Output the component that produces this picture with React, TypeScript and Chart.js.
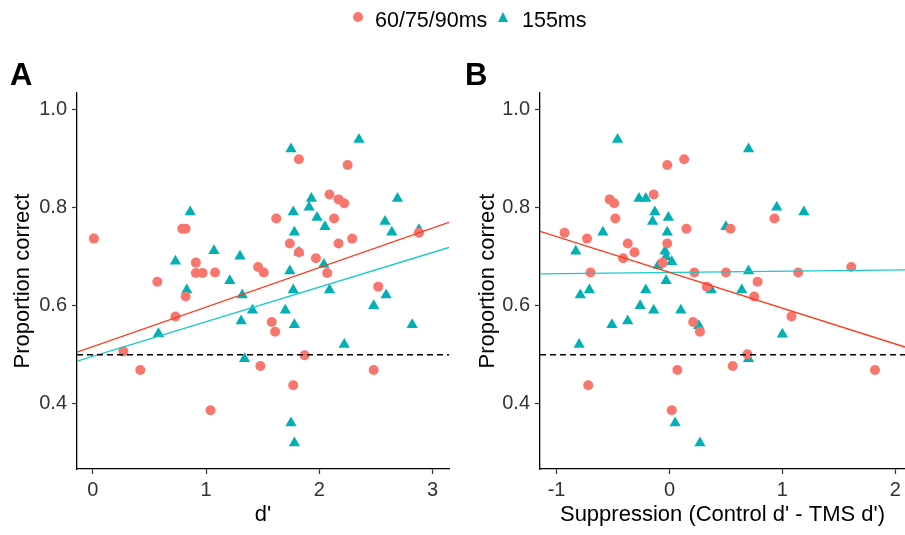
import React, { useEffect, useRef } from "react";
import { Chart, registerables } from "chart.js";

Chart.register(...registerables);

const FONT = "'Liberation Sans', Arial, Helvetica, sans-serif";

// ---- Legend / series names
const SERIES_NAMES = ["60/75/90ms", "155ms"];

// ---- Panel A: d' vs proportion correct
const A_SHORT_X = [0.01, 1.82, 2.25, 2.09, 2.17, 2.22, 0.79, 0.82, 1.62, 2.13, 2.29, 1.74, 2.17, 1.82, 1.97, 2.88, 0.91, 0.91, 0.97, 1.08, 1.46, 1.51, 2.07, 0.57, 2.52, 0.82, 0.73, 1.58, 1.61, 0.27, 1.87, 0.42, 1.48, 2.48, 1.77, 1.04];
const A_SHORT_Y = [0.737, 0.899, 0.887, 0.827, 0.817, 0.809, 0.757, 0.757, 0.778, 0.778, 0.737, 0.727, 0.727, 0.709, 0.697, 0.749, 0.688, 0.667, 0.667, 0.668, 0.679, 0.668, 0.667, 0.649, 0.639, 0.619, 0.578, 0.567, 0.547, 0.507, 0.499, 0.469, 0.477, 0.469, 0.438, 0.387];
const A_LONG_X = [1.75, 2.35, 1.93, 1.91, 0.86, 1.77, 2.69, 1.98, 2.05, 2.58, 2.64, 1.78, 2.88, 1.82, 1.07, 0.73, 1.30, 2.04, 1.74, 1.21, 0.83, 1.77, 2.09, 1.32, 2.59, 2.48, 1.41, 1.70, 1.31, 1.78, 2.82, 0.58, 2.22, 1.34, 1.75, 1.78];
const A_LONG_Y = [0.92, 0.939, 0.819, 0.801, 0.791, 0.791, 0.819, 0.78, 0.761, 0.772, 0.75, 0.75, 0.755, 0.709, 0.712, 0.691, 0.701, 0.684, 0.671, 0.651, 0.632, 0.632, 0.632, 0.622, 0.622, 0.6, 0.591, 0.591, 0.569, 0.561, 0.561, 0.543, 0.521, 0.492, 0.361, 0.32];
// linear fits [intercept, slope]
const A_SHORT_FIT = [0.5166, 0.0806];
const A_LONG_FIT = [0.4968, 0.0706];
const A_X_RANGE = [-0.139, 3.145];
const A_X_TICKS = [0, 1, 2, 3];

// ---- Panel B: suppression vs proportion correct
const B_SHORT_X = [-0.93, -0.73, -0.53, -0.49, -0.48, -0.14, -0.02, 0.13, 0.15, -0.37, -0.31, -0.41, -0.02, -0.06, 0.54, 0.93, 1.61, -0.7, 0.22, 0.5, 1.14, 0.78, 0.33, 0.75, 1.08, 0.21, 0.27, 0.69, 0.07, 0.56, 1.82, -0.72, 0.02];
const B_SHORT_Y = [0.749, 0.737, 0.817, 0.809, 0.778, 0.827, 0.887, 0.899, 0.757, 0.727, 0.709, 0.697, 0.727, 0.688, 0.757, 0.778, 0.679, 0.668, 0.668, 0.668, 0.668, 0.649, 0.639, 0.619, 0.578, 0.567, 0.547, 0.501, 0.469, 0.477, 0.469, 0.438, 0.387];
const B_LONG_X = [-0.46, 0.7, -0.27, -0.21, -0.13, -0.15, -0.01, -0.02, 0.95, 1.19, -0.59, 0.5, -0.83, -0.04, -0.03, 0.02, -0.1, 0.7, -0.03, -0.71, -0.21, 0.37, 0.64, -0.79, -0.26, -0.14, 0.1, -0.51, -0.37, 0.26, 1.0, -0.8, 0.7, 0.05, 0.27];
const B_LONG_Y = [0.939, 0.92, 0.819, 0.819, 0.791, 0.772, 0.78, 0.75, 0.801, 0.791, 0.75, 0.761, 0.711, 0.711, 0.7, 0.69, 0.682, 0.671, 0.651, 0.632, 0.632, 0.632, 0.632, 0.622, 0.6, 0.591, 0.591, 0.561, 0.569, 0.559, 0.542, 0.521, 0.492, 0.361, 0.32];
const B_SHORT_FIT = [0.668, -0.073];
const B_LONG_FIT = [0.668, 0.0025];
const B_X_RANGE = [-1.147, 2.086];
const B_X_TICKS = [-1, 0, 1, 2];

// ---- shared y
const Y_RANGE = [0.267, 1.034];
const Y_TICKS = [0.4, 0.6, 0.8, 1.0];
const CHANCE = 0.5;
const Y_TITLE = "Proportion correct";

const RED_PT = "#F8766D";
const TEAL_PT = "#00B0B5";
const RED_LINE = "#FF3A1A";
const TEAL_LINE = "#1CC9CD";
const TICK_COLOR = "#333333";

type PanelProps = {
  sx: number[]; sy: number[]; lx: number[]; ly: number[];
  sFit: number[]; lFit: number[];
  xRange: number[]; xTicks: number[]; xTitle: string;
  width: number; height: number; left: number;
  padLeft: number; padRight: number; yWidth: number;
};

function zip(xs: number[], ys: number[]) {
  return xs.map((x, i) => ({ x, y: ys[i] }));
}
function fitLine(fit: number[], r: number[]) {
  return r.map((x) => ({ x, y: fit[0] + fit[1] * x }));
}

function Panel(p: PanelProps) {
  const ref = useRef<HTMLCanvasElement | null>(null);
  useEffect(() => {
    if (!ref.current) return;
    const chart = new Chart(ref.current, {
      type: "scatter",
      data: {
        datasets: [
          {
            type: "line",
            label: "chance",
            data: [{ x: p.xRange[0], y: CHANCE }, { x: p.xRange[1], y: CHANCE }],
            borderColor: "#000000",
            borderWidth: 1.6,
            borderDash: [6, 4],
            pointRadius: 0,
            order: 0,
          } as any,
          {
            type: "line",
            label: "fit short",
            data: fitLine(p.sFit, p.xRange),
            borderColor: RED_LINE,
            borderWidth: 1.4,
            pointRadius: 0,
            order: 1,
          } as any,
          {
            type: "line",
            label: "fit long",
            data: fitLine(p.lFit, p.xRange),
            borderColor: TEAL_LINE,
            borderWidth: 1.4,
            pointRadius: 0,
            order: 2,
          } as any,
          {
            label: SERIES_NAMES[0],
            data: zip(p.sx, p.sy),
            pointStyle: "circle",
            pointRadius: 5,
            backgroundColor: RED_PT,
            borderColor: RED_PT,
            pointBorderWidth: 0,
            order: 3,
          } as any,
          {
            label: SERIES_NAMES[1],
            data: zip(p.lx, p.ly),
            pointStyle: "triangle",
            pointRadius: 6.5,
            backgroundColor: TEAL_PT,
            borderColor: TEAL_PT,
            pointBorderWidth: 0,
            order: 4,
          } as any,
        ],
      },
      options: {
        animation: false,
        responsive: false,
        maintainAspectRatio: false,
        layout: { autoPadding: false, padding: { left: p.padLeft, right: p.padRight, top: 93, bottom: 7 } },
        plugins: { legend: { display: false }, tooltip: { enabled: false } },
        scales: {
          x: {
            type: "linear",
            min: p.xRange[0],
            max: p.xRange[1],
            afterBuildTicks: (s: any) => { s.ticks = p.xTicks.map((v) => ({ value: v })); },
            afterFit: (s: any) => { s.height = 59; s.paddingLeft = 0; s.paddingRight = 0; },
            ticks: {
              callback: (v: any) => String(v),
              color: TICK_COLOR,
              font: { family: FONT, size: 20 },
              padding: 4,
              maxRotation: 0,
              autoSkip: false,
            },
            grid: { drawOnChartArea: false, drawTicks: true, tickLength: 5, tickColor: TICK_COLOR, tickWidth: 1.2 },
            border: { display: true, color: "#000000", width: 1.3 },
            title: { display: true, text: p.xTitle, color: "#000000", font: { family: FONT, size: 22 }, padding: 0 },
          },
          y: {
            type: "linear",
            min: Y_RANGE[0],
            max: Y_RANGE[1],
            afterBuildTicks: (s: any) => { s.ticks = Y_TICKS.map((v) => ({ value: v })); },
            afterFit: (s: any) => { s.width = p.yWidth; s.paddingTop = 0; s.paddingBottom = 0; },
            ticks: {
              callback: (v: any) => Number(v).toFixed(1),
              color: TICK_COLOR,
              font: { family: FONT, size: 20 },
              padding: 5,
              autoSkip: false,
            },
            grid: { drawOnChartArea: false, drawTicks: true, tickLength: 5, tickColor: TICK_COLOR, tickWidth: 1.2 },
            border: { display: true, color: "#000000", width: 1.3 },
            title: { display: true, text: Y_TITLE, color: "#000000", font: { family: FONT, size: 22 }, padding: 0 },
          },
        },
      },
    } as any);
    return () => chart.destroy();
  }, []);
  return (
    <canvas
      ref={ref}
      width={p.width}
      height={p.height}
      style={{ position: "absolute", left: p.left, top: 0, width: p.width, height: p.height }}
    />
  );
}

const labelStyle: React.CSSProperties = {
  position: "absolute",
  fontFamily: FONT,
  fontWeight: "bold",
  fontSize: 31,
  lineHeight: "31px",
  color: "#000",
};

const legendText: React.CSSProperties = {
  position: "absolute",
  fontFamily: FONT,
  fontSize: 21.5,
  lineHeight: "21.5px",
  color: "#000",
  top: 10,
  whiteSpace: "nowrap",
};

export default function App() {
  return (
    <div style={{ position: "absolute", left: 0, top: 0, width: 905, height: 535, background: "#fff", overflow: "hidden" }}>
      <Panel
        sx={A_SHORT_X} sy={A_SHORT_Y} lx={A_LONG_X} ly={A_LONG_Y}
        sFit={A_SHORT_FIT} lFit={A_LONG_FIT}
        xRange={A_X_RANGE} xTicks={A_X_TICKS} xTitle="d'"
        width={455} height={535} left={0} padLeft={10} padRight={6} yWidth={67}
      />
      <Panel
        sx={B_SHORT_X} sy={B_SHORT_Y} lx={B_LONG_X} ly={B_LONG_Y}
        sFit={B_SHORT_FIT} lFit={B_LONG_FIT}
        xRange={B_X_RANGE} xTicks={B_X_TICKS} xTitle="Suppression (Control d' - TMS d')"
        width={450} height={535} left={455} padLeft={20} padRight={0} yWidth={65}
      />
      <div style={{ ...labelStyle, left: 10, top: 59 }}>A</div>
      <div style={{ ...labelStyle, left: 465, top: 59 }}>B</div>
      <div style={{ position: "absolute", left: 353, top: 12, width: 10, height: 10, borderRadius: "50%", background: RED_PT }} />
      <div style={{ ...legendText, left: 375 }}>{SERIES_NAMES[0]}</div>
      <div style={{ position: "absolute", left: 497.5, top: 12, width: 0, height: 0, borderLeft: "5.5px solid transparent", borderRight: "5.5px solid transparent", borderBottom: "10px solid " + TEAL_PT }} />
      <div style={{ ...legendText, left: 522 }}>{SERIES_NAMES[1]}</div>
    </div>
  );
}
